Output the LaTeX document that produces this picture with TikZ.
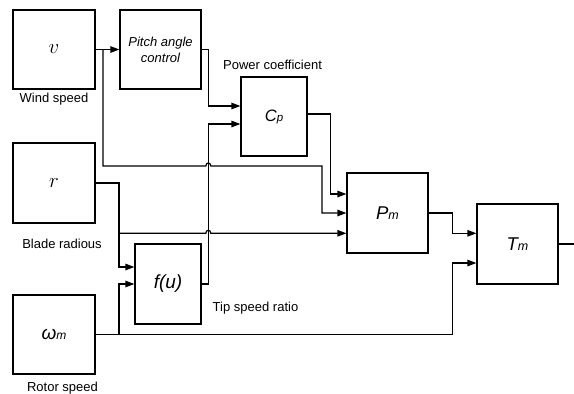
\documentclass[tikz,border=0pt]{standalone}
\usepackage{fontspec}
\setmainfont{Liberation Sans}
\usetikzlibrary{arrows.meta}
\begin{document}
\begin{tikzpicture}[x=1pt,y=-1pt,
  blk/.style={draw, line width=1.2pt, inner sep=0pt, anchor=center},
  ln/.style={line width=1.2pt},
  arr/.style={line width=1.2pt, -{Triangle[length=9pt,width=6.5pt]}},
  lbl/.style={inner sep=0pt, font=\fontsize{13}{15}\selectfont}]
\useasboundingbox (0,0) rectangle (574,394);
% blocks
\node[blk, minimum width=82pt, minimum height=79pt] (v) at (54,49.5) {\fontsize{21}{21}\selectfont$v$};
\node[blk, minimum width=81pt, minimum height=79pt, align=center, font=\fontsize{13}{16}\selectfont\itshape] (pitch) at (160.5,49.5) {Pitch angle\\control};
\node[blk, minimum width=66pt, minimum height=79pt] (cp) at (274,116.5) {{\fontsize{16.5}{16}\selectfont\itshape C}{\fontsize{11.5}{11}\selectfont\itshape p}};
\node[blk, minimum width=82pt, minimum height=80pt] (r) at (54,183) {\fontsize{21}{21}\selectfont$r$};
\node[blk, minimum width=66pt, minimum height=80pt] (fu) at (168,284) {\fontsize{19}{19}\selectfont\itshape f(u)};
\node[blk, minimum width=82pt, minimum height=79pt] (w) at (54,334.5) {{\fontsize{19}{19}\selectfont\itshape ω}{\fontsize{12}{12}\selectfont\itshape m}};
\node[blk, minimum width=81pt, minimum height=80pt] (pm) at (387.5,213) {{\fontsize{18.5}{18}\selectfont\itshape P}{\fontsize{12.5}{12}\selectfont\itshape m}};
\node[blk, minimum width=81pt, minimum height=80pt] (tm) at (517.5,244) {{\fontsize{18.5}{18}\selectfont\itshape T}{\fontsize{12.5}{12}\selectfont\itshape m}};
% labels
\node[lbl] (lws) at (54,99) {Wind speed};
\node[lbl] (lbr) at (62,244) {Blade radious};
\node[lbl] (lrs) at (62.5,388) {Rotor speed};
\node[lbl] (ltsr) at (255.5,308) {Tip speed ratio};
\node[lbl] (lpc) at (272.5,65) {Power coefficient};
% junction coordinates
\coordinate (jv) at (103,49.5);
\coordinate (jr) at (119,233.3);
\coordinate (jw) at (119,334.5);
\coordinate (out) at (574,244);
% connectors
\draw[arr] (v.east) -- (pitch.west);
\draw[arr] (jv) -- (103,166) -- (205.8,166) .. controls (205.8,162) and (210.8,162) .. (210.8,166) -- (322,166) |- (pm.west);
\draw[arr] (pitch.east) -- (208.3,49.5) |- ([yshift=10.5pt]cp.west);
\draw[arr] (fu.east) -- (208.3,284) |- ([yshift=-7.5pt]cp.west);
\draw[arr] ([yshift=2.5pt]cp.east) -- (330.7,114) |- ([yshift=19pt]pm.west);
\draw[arr] (r.east) -- (119,183) |- ([yshift=17pt]fu.west);
\draw[arr] (jr) -- (205.8,233.3) .. controls (205.8,229.3) and (210.8,229.3) .. (210.8,233.3) -- ([yshift=-20.3pt]pm.west);
\draw[arr] (w.east) -- (452.7,334.5) |- ([yshift=-19pt]tm.west);
\draw[arr] (jw) |- (fu.west);
\draw[arr] (pm.east) -- (452.7,213) |- ([yshift=10.7pt]tm.west);
\draw[ln] (tm.east) -- (out);
\end{tikzpicture}
\end{document}
